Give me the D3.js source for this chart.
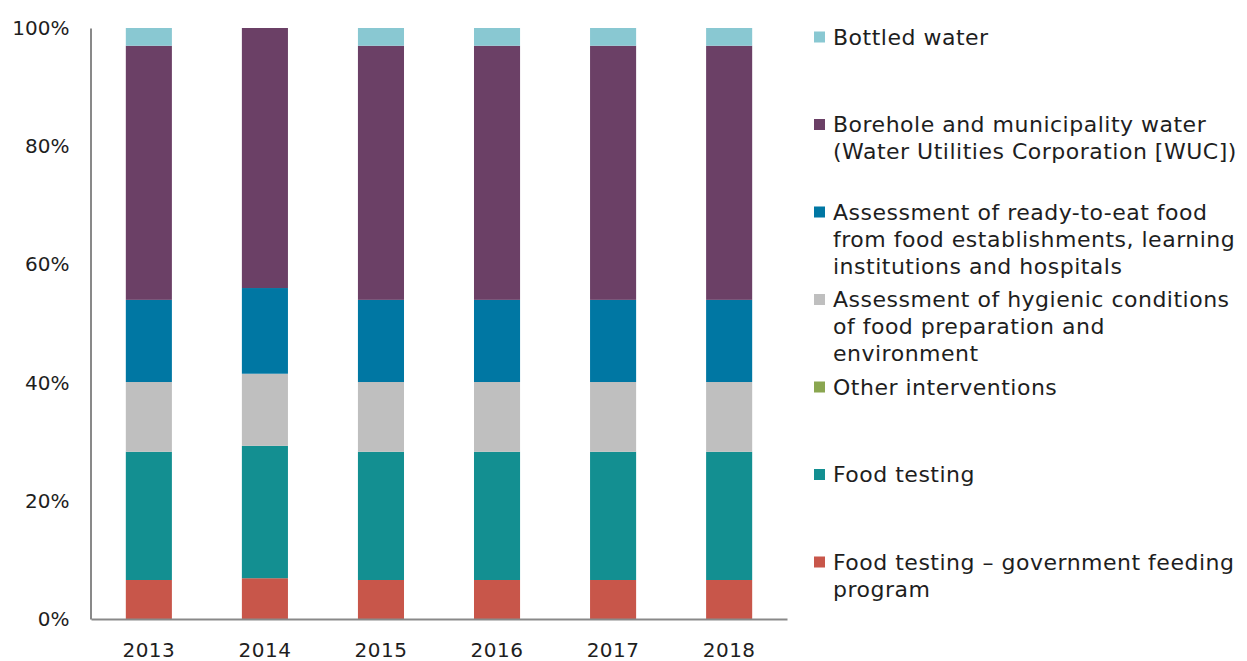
<!DOCTYPE html>
<html>
<head>
<meta charset="utf-8">
<script src="https://cdn.jsdelivr.net/npm/d3@7"></script>
<style>
  body { margin: 0; background: #fff; }
  text { font-family: "DejaVu Sans", sans-serif; fill: #1e1e1e; }
</style>
</head>
<body>
<div id="chart"></div>
<script>
// categories and series (bottom to top of stack), values in %
var years = ["2013", "2014", "2015", "2016", "2017", "2018"];
var seriesKeys = ["feeding", "food", "other", "hygiene", "ready", "borehole", "bottled"];
var feeding  = [6.6, 6.9, 6.6, 6.6, 6.6, 6.6];
var food     = [21.7, 22.4, 21.7, 21.7, 21.7, 21.7];
var other    = [0, 0, 0, 0, 0, 0];
var hygiene  = [11.8, 12.2, 11.8, 11.8, 11.8, 11.8];
var ready    = [13.9, 14.5, 13.9, 13.9, 13.9, 13.9];
var borehole = [43.0, 44.0, 43.0, 43.0, 43.0, 43.0];
var bottled  = [3.0, 0, 3.0, 3.0, 3.0, 3.0];
var yTicks = [0, 20, 40, 60, 80, 100];

// legend, top to bottom
var legendKeys = ["bottled", "borehole", "ready", "hygiene", "other", "food", "feeding"];
var legendLines = [
  ["Bottled water"],
  ["Borehole and municipality water", "(Water Utilities Corporation [WUC])"],
  ["Assessment of ready-to-eat food", "from food establishments, learning", "institutions and hospitals"],
  ["Assessment of hygienic conditions", "of food preparation and", "environment"],
  ["Other interventions"],
  ["Food testing"],
  ["Food testing \u2013 government feeding", "program"]
];

var colors = {
  bottled: "#89c8d2",
  borehole: "#6b4066",
  ready: "#0077a3",
  hygiene: "#bfbfbf",
  other: "#8aa650",
  food: "#138f91",
  feeding: "#c8564a"
};

var seriesValues = {feeding: feeding, food: food, other: other, hygiene: hygiene,
  ready: ready, borehole: borehole, bottled: bottled};

var table = years.map(function(y, i) {
  var row = {year: y};
  seriesKeys.forEach(function(k) { row[k] = seriesValues[k][i]; });
  return row;
});

var W = 1247, H = 661;
var margin = {top: 28, left: 91, bottom: 42};
var plotW = 696, plotH = H - margin.top - margin.bottom;

var svg = d3.select("#chart").append("svg")
  .attr("width", W)
  .attr("height", H);

var x = d3.scaleBand().domain(years).range([margin.left, margin.left + plotW])
  .paddingInner(0.603).paddingOuter(0.3);
var y = d3.scaleLinear().domain([0, 100]).range([margin.top + plotH, margin.top]);

var stack = d3.stack().keys(seriesKeys)(table);

svg.append("g").selectAll("g")
  .data(stack)
  .enter().append("g")
  .attr("fill", function(d) { return colors[d.key]; })
  .selectAll("rect")
  .data(function(d) { return d; })
  .enter().append("rect")
  .attr("x", function(d) { return x(d.data.year); })
  .attr("width", x.bandwidth())
  .attr("y", function(d) { return y(d[1]); })
  .attr("height", function(d) { return y(d[0]) - y(d[1]); });

// y axis
var yAxis = svg.append("g")
  .attr("transform", "translate(" + (margin.left - 0.5) + ",0)")
  .call(d3.axisLeft(y).tickValues(yTicks).tickSize(0).tickPadding(21)
    .tickFormat(function(d) { return d + "%"; }));
yAxis.select(".domain").attr("stroke", "#898989").attr("stroke-width", 2);
yAxis.selectAll("text").style("font-size", "20px");

// x axis
var xAxis = svg.append("g")
  .attr("transform", "translate(0," + (margin.top + plotH) + ")")
  .call(d3.axisBottom(x).tickSize(0).tickPadding(24));
xAxis.select(".domain").attr("stroke", "#898989").attr("stroke-width", 2);
xAxis.selectAll("text").style("font-size", "20px").style("letter-spacing", "0.5px");

// legend
var ly = d3.scalePoint().domain(legendKeys).range([37, 562]);
var legend = svg.append("g").selectAll("g")
  .data(legendKeys)
  .enter().append("g")
  .attr("transform", function(d) { return "translate(814," + ly(d) + ")"; });

legend.append("rect")
  .attr("x", 0).attr("y", -5.5)
  .attr("width", 11).attr("height", 11)
  .attr("fill", function(d) { return colors[d]; });

legend.append("text")
  .style("font-size", "22px")
  .style("letter-spacing", "0.5px")
  .each(function(d, i) {
    var t = d3.select(this);
    legendLines[i].forEach(function(line, j) {
      t.append("tspan")
        .attr("x", 19)
        .attr("y", j * 27)
        .attr("dy", "0.35em")
        .text(line);
    });
  });
</script>
</body>
</html>
